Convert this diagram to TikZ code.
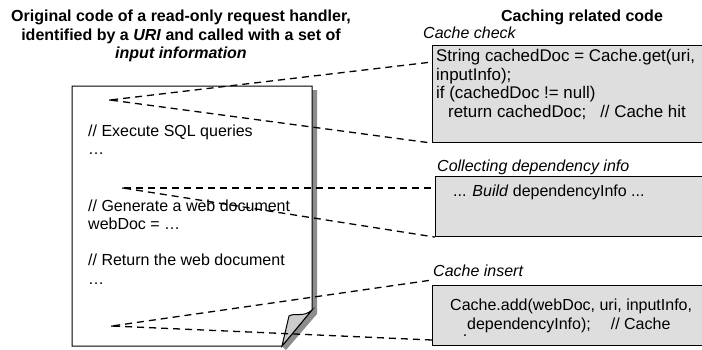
\documentclass[tikz,border=0pt]{standalone}
\usepackage{fontspec}
\setmainfont{Liberation Sans}
\definecolor{boxgray}{gray}{0.87}
\definecolor{shadowgray}{gray}{0.55}
\definecolor{flapgray}{gray}{0.8}
\tikzstyle{codebox}=[draw=black,fill=boxgray,line width=1.1pt,anchor=north west,inner sep=0pt,minimum width=280pt]
\tikzstyle{codetext}=[anchor=base west,inner sep=0pt,font=\fontsize{16}{18.5}\selectfont]
\tikzstyle{titletext}=[anchor=north,align=center,inner sep=0pt,font=\bfseries\fontsize{16}{18.5}\selectfont]
\tikzstyle{parttext}=[anchor=base west,inner sep=0pt,font=\itshape\fontsize{16}{18.5}\selectfont]
\tikzstyle{link}=[dash pattern=on 7pt off 5pt,line width=1.3pt]
\tikzstyle{spot}=[circle,fill=black,inner sep=0pt,minimum size=2pt]

\begin{document}
\begin{tikzpicture}[x=1pt,y=-1pt]
    \clip (0,0) rectangle (702,349);
    % titles
    \node[titletext] (lefttitle) at (181,10) {Original code of a read-only request handler,\\identified by a \textit{URI} and called with a set of\\\textit{input information}};
    \node[titletext] (righttitle) at (582,10) {Caching related code};

    % page with folded corner
    \fill[shadowgray] (312,90) -- (317,90) -- (317,314) -- (286,350) -- (282,346) -- (312,310) -- cycle;
    \draw[fill=white,line width=1pt] (72,86) -- (312,86) -- (312,310) -- (282,346) -- (72,346) -- cycle;
    \draw[fill=flapgray,line width=1pt] (312,310) .. controls (303,318) and (296,312) .. (289,316) -- (282,346) -- cycle;

    \foreach \y/\txt in {136/{// Execute SQL queries},154/{…},211/{// Generate a web document},229/{webDoc = …},265/{// Return the web document},284/{…}}
    \node[codetext] (line\y) at (88,\y) {\txt};

    % code boxes
    \node[codebox,minimum height=97pt] (check) at (432,45) {};
    \node[codebox,minimum height=60pt] (collect) at (435,176) {};
    \node[codebox,minimum height=60pt] (insert) at (432,285) {};

    \foreach \y/\txt in {61/{String cachedDoc = Cache.get(uri,},80/{inputInfo);},98/{if (cachedDoc != null)},117/{\hspace*{12pt}return cachedDoc;\hspace{14pt}// Cache hit}}
    \node[codetext,font=\fontsize{16.9}{18.5}\selectfont] (check\y) at (436,\y) {\txt};
    \node[codetext] (collect196) at (453,196.5) {... \textit{Build} dependencyInfo ...};
    \node[codetext] (insert310) at (450,310) {Cache.add(webDoc, uri, inputInfo,};
    \node[codetext] (insert329) at (467,329) {dependencyInfo);\hspace{20pt}// Cache};
    \node[codetext,anchor=center] (insertcut) at (465,336) {.};

    \node[parttext] (checklabel) at (423,38.5) {Cache check};
    \node[parttext] (collectlabel) at (437,171.5) {Collecting dependency info};
    \node[parttext] (insertlabel) at (433,276.5) {Cache insert};

    % dashed connectors
    \node[spot] (dot1) at (110,100) {};
    \node[spot] (dot2) at (123,188) {};
    \node[spot] (dot3) at (112,326) {};
    \coordinate (checkin) at (432,62);
    \coordinate (collectin) at (435,188);
    \coordinate (insertin) at (432,280);
    \coordinate (insertout) at (432,340);

    \foreach \from/\to in {dot1/checkin,dot1/check.south west,dot2/collectin,dot2/collect.south west,dot3/insertin,dot3/insertout}
    \draw[link] (\from) -- (\to);
\end{tikzpicture}
\end{document}
